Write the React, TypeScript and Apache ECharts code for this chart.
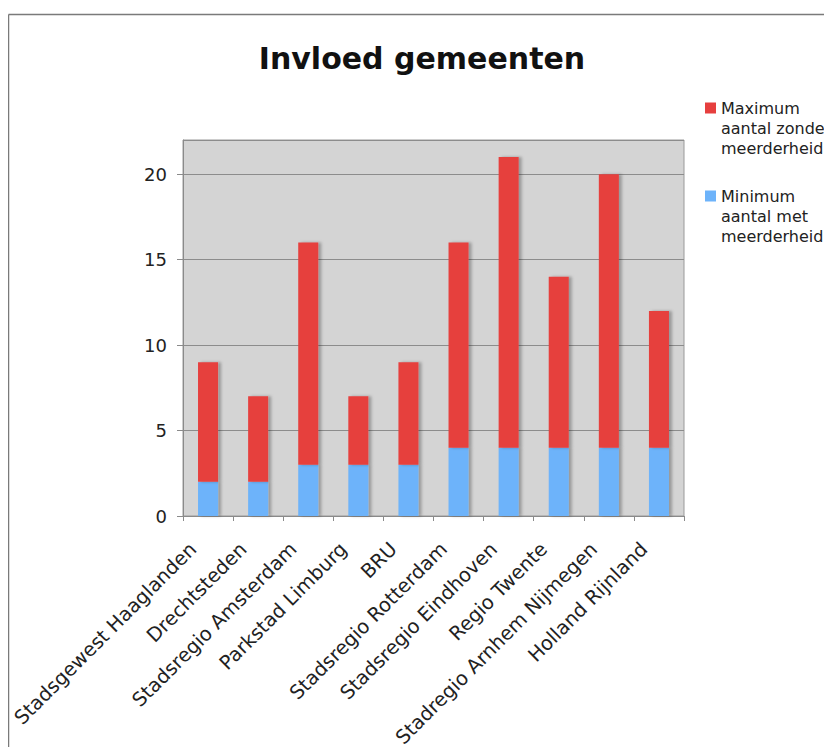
import React, { useEffect, useRef } from "react";
import * as echarts from "echarts";

const categories = [
  "Stadsgewest Haaglanden",
  "Drechtsteden",
  "Stadsregio Amsterdam",
  "Parkstad Limburg",
  "BRU",
  "Stadsregio Rotterdam",
  "Stadsregio Eindhoven",
  "Regio Twente",
  "Stadregio Arnhem Nijmegen",
  "Holland Rijnland",
];
// blue (bottom) segment
const minimumMet = [2, 2, 3, 3, 3, 4, 4, 4, 4, 4];
// red segment stacked on top (reaches totals 9,7,16,7,9,16,21,14,20,12)
const maximumZonder = [7, 5, 13, 4, 6, 12, 17, 10, 16, 8];

const nameMax = "Maximum aantal zonder meerderheid";
const nameMin = "Minimum aantal met meerderheid";
const legendLabels: Record<string, string> = {
  [nameMax]: "\n\nMaximum\naantal zonder\nmeerderheid",
  [nameMin]: "\n\nMinimum\naantal met\nmeerderheid",
};

const FONT = "DejaVu Sans";

export default function App() {
  const ref = useRef<HTMLDivElement>(null);
  useEffect(() => {
    if (!ref.current) return;
    const chart = echarts.init(ref.current, null, { renderer: "svg" });
    const shadow = {
      shadowColor: "rgba(0,0,0,0.28)",
      shadowBlur: 3,
      shadowOffsetX: 3,
      shadowOffsetY: 0,
    };
    chart.setOption({
      animation: false,
      backgroundColor: "#ffffff",
      title: {
        text: "Invloed gemeenten",
        left: 409,
        textAlign: "center",
        top: 30,
        textStyle: {
          fontFamily: FONT,
          fontSize: 30,
          fontWeight: "bold",
          color: "#111",
        },
      },
      legend: {
        orient: "vertical",
        left: 692,
        top: 45,
        itemWidth: 11,
        itemHeight: 11,
        itemGap: -12,
        icon: "rect",
        data: [nameMax, nameMin],
        formatter: (n: string) => legendLabels[n] || n,
        textStyle: {
          fontFamily: FONT,
          fontSize: 16,
          lineHeight: 20,
          color: "#222",
        },
      },
      grid: {
        left: 175,
        right: 148,
        top: 132,
        bottom: 231,
        containLabel: false,
        outerBoundsMode: "none",
        show: true,
        backgroundColor: "#d4d4d4",
        borderColor: "#9a9a9a",
        borderWidth: 1,
      },
      xAxis: {
        type: "category",
        data: categories,
        axisLine: { lineStyle: { color: "#8a8a8a", width: 1 } },
        axisTick: { show: true, length: 5, lineStyle: { color: "#8a8a8a" } },
        axisLabel: {
          rotate: 45,
          interval: 0,
          margin: 15,
          padding: [0, 21, 0, 0],
          fontFamily: FONT,
          fontSize: 19.5,
          color: "#222",
        },
      },
      yAxis: {
        type: "value",
        min: 0,
        max: 22,
        interval: 5,
        axisLine: { show: true, lineStyle: { color: "#8a8a8a", width: 1 } },
        axisTick: { show: true, length: 6, lineStyle: { color: "#8a8a8a" } },
        axisLabel: {
          showMaxLabel: false,
          margin: 16,
          fontFamily: FONT,
          fontSize: 18,
          color: "#222",
        },
        splitLine: { show: true, lineStyle: { color: "#8c8c8c", width: 1 } },
      },
      series: [
        {
          name: nameMin,
          type: "bar",
          stack: "total",
          barWidth: "40%",
          data: minimumMet,
          itemStyle: { color: "#6db3fa", ...shadow },
        },
        {
          name: nameMax,
          type: "bar",
          stack: "total",
          barWidth: "40%",
          data: maximumZonder,
          itemStyle: { color: "#e63f3e", ...shadow },
        },
      ],
      graphic: [
        {
          type: "line",
          shape: { x1: 0.5, y1: 6.5, x2: 824, y2: 6.5 },
          style: { stroke: "#7a7a7a", lineWidth: 1.5 },
          silent: true,
        },
        {
          type: "line",
          shape: { x1: 0.5, y1: 6.5, x2: 0.5, y2: 739 },
          style: { stroke: "#7a7a7a", lineWidth: 1.5 },
          silent: true,
        },
      ],
    });
    return () => chart.dispose();
  }, []);
  return <div ref={ref} style={{ width: 824, height: 739 }} />;
}
